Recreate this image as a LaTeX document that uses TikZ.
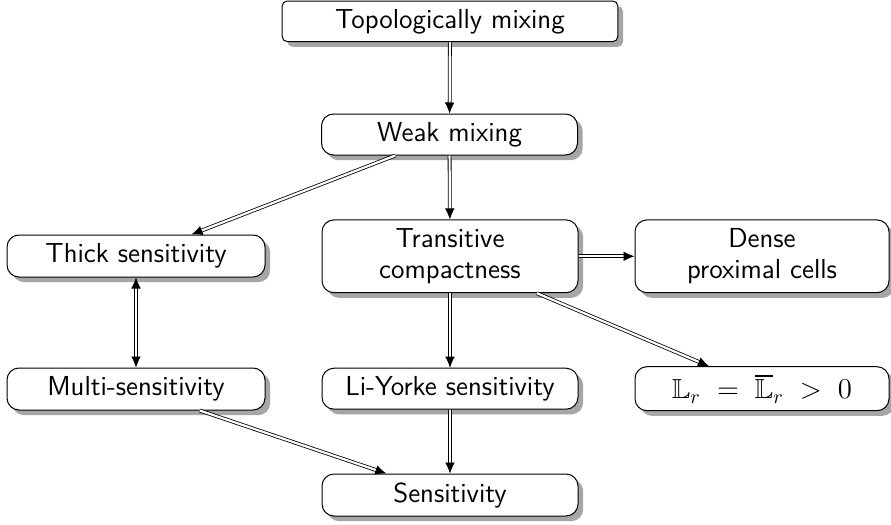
\documentclass[tikz,border=0pt]{standalone}
\usepackage{amssymb}
\usetikzlibrary{arrows.meta,shadows}
\begin{document}
\begin{tikzpicture}[x=0.5pt,y=-0.5pt,
  box/.style={draw=black, line width=0.5pt, fill=white, rounded corners=6pt,
    inner sep=0pt, align=center, font=\sffamily\fontsize{13.75pt}{15.5pt}\selectfont,
    drop shadow={shadow xshift=2.6pt, shadow yshift=-2.6pt, fill=black!35, opacity=1}},
  imp/.style={double, double distance=1.1pt, line width=0.4pt,
    -{Latex[length=5.5pt,width=4.8pt]}},
  bimp/.style={double, double distance=1.1pt, line width=0.4pt,
    {Latex[length=5.5pt,width=4.8pt]}-{Latex[length=5.5pt,width=4.8pt]}}]
\useasboundingbox (0,0) rectangle (891,525);
\node[box, rounded corners=2.5pt, minimum width=167.8pt, minimum height=20.3pt] (topo) at (450,21.3) {Topologically mixing};
\node[box, minimum width=128pt, minimum height=20.5pt] (weak) at (449.5,134.5) {Weak mixing};
\node[box, minimum width=129pt, minimum height=21pt] (thick) at (136,256) {Thick sensitivity};
\node[box, minimum width=128pt, minimum height=36.4pt] (trans) at (450,256.3) {Transitive\\compactness};
\node[box, minimum width=127pt, minimum height=36.4pt] (dense) at (762,256.3) {Dense\\proximal cells};
\node[box, minimum width=129pt, minimum height=21pt] (multi) at (136,389) {Multi-sensitivity};
\node[box, minimum width=128pt, minimum height=20.5pt] (ly) at (450,388.7) {Li-Yorke sensitivity};
\node[box, minimum width=127pt, minimum height=22pt] (lr) at (762,388.7) {$\mathbb{L}_r \mskip5mu=\mskip5mu \overline{\mathbb{L}}_r \mskip5mu>\mskip5mu 0$};
\node[box, minimum width=128pt, minimum height=21pt] (sens) at (450,495) {Sensitivity};
\draw[imp] (topo) -- (weak);
\draw[imp] (weak) -- (trans);
\draw[imp] (weak) -- (thick);
\draw[imp] (trans) -- (dense);
\draw[imp] (trans) -- (ly);
\draw[imp] (trans) -- (lr);
\draw[bimp] (thick) -- (multi);
\draw[imp] (multi) -- (sens);
\draw[imp] (ly) -- (sens);
\end{tikzpicture}
\end{document}
